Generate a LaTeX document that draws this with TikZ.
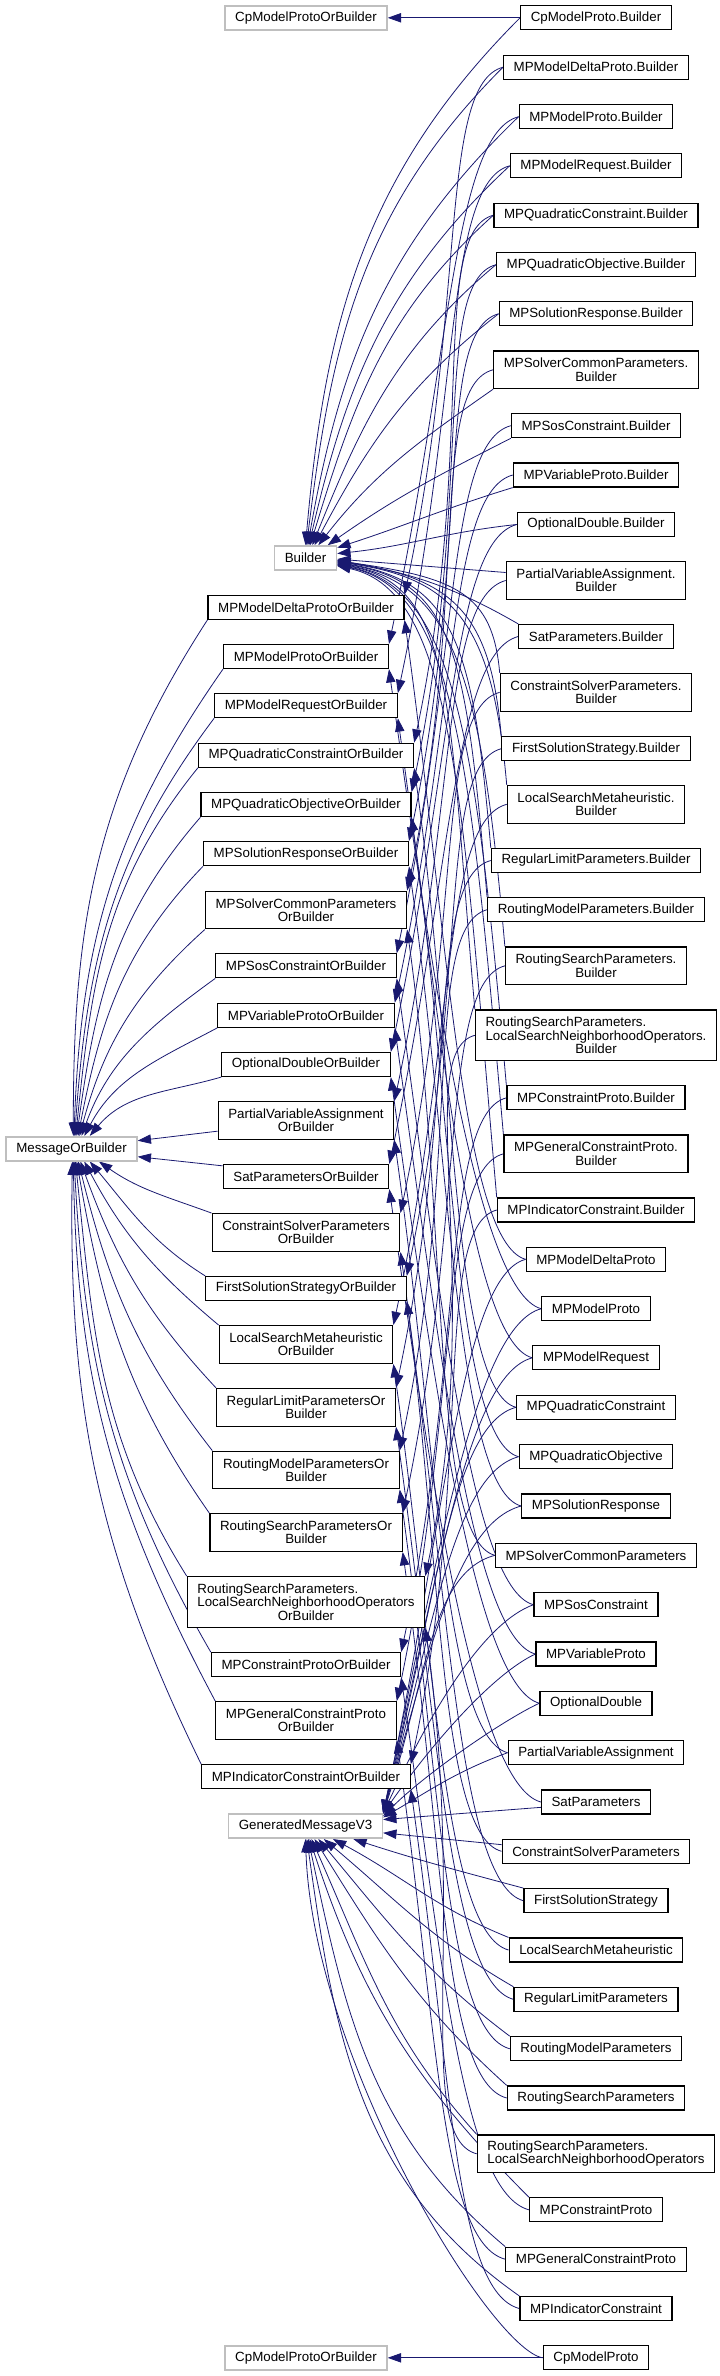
\documentclass[tikz,border=0pt]{standalone}
\usepackage{fontspec}
\setmainfont{Liberation Sans}
\usetikzlibrary{arrows.meta,backgrounds}
\definecolor{edgeblue}{RGB}{25,25,112}
\tikzset{
  cls/.style={draw=black,fill=white,line width=0.9pt,inner xsep=7.6pt,inner ysep=4.3pt,minimum height=18pt,font=\fontsize{10}{10}\selectfont,align=center},
  cls2/.style={cls,minimum height=28.3pt},
  cls3/.style={cls,minimum height=38pt},
  extcls/.style={cls,draw=black!25,line width=1.2pt},
  inh/.style={edgeblue,line width=0.6pt,-{Triangle[length=10pt,width=7pt]}},
  godown/.style={out=195,in=78,out distance=50pt,in distance=225pt},
  goup/.style={out=165,in=-82,out distance=50pt,in distance=225pt}
}
\begin{document}
\begin{tikzpicture}[x=0.75pt,y=0.75pt]
\useasboundingbox (0,0) rectangle (719,-2376);
\node[extcls] (mob) at (71.5,-1148.7) {MessageOrBuilder};
\node[extcls] (cpob1) at (306,-17.8) {CpModelProtoOrBuilder};
\node[extcls] (bld) at (305.5,-558) {Builder};
\node[cls] (mdpob) at (306,-607.3) {MPModelDeltaProtoOrBuilder};
\node[cls] (mpob) at (306,-656.5) {MPModelProtoOrBuilder};
\node[cls] (mrob) at (306,-705.7) {MPModelRequestOrBuilder};
\node[cls] (mqcob) at (306,-755.3) {MPQuadraticConstraintOrBuilder};
\node[cls] (mqoob) at (306,-804.7) {MPQuadraticObjectiveOrBuilder};
\node[cls] (msrob) at (306,-853.7) {MPSolutionResponseOrBuilder};
\node[cls2] (mscpob) at (306,-910) {MPSolverCommonParameters\\OrBuilder};
\node[cls] (msosob) at (306,-965.8) {MPSosConstraintOrBuilder};
\node[cls] (mvarob) at (306,-1015.3) {MPVariableProtoOrBuilder};
\node[cls] (odob) at (306,-1064.5) {OptionalDoubleOrBuilder};
\node[cls2] (pvaob) at (306,-1120.5) {PartialVariableAssignment\\OrBuilder};
\node[cls] (satob) at (306,-1176.5) {SatParametersOrBuilder};
\node[cls2] (cspob) at (306,-1232.5) {ConstraintSolverParameters\\OrBuilder};
\node[cls] (fssob) at (306,-1288.5) {FirstSolutionStrategyOrBuilder};
\node[cls2] (lsmob) at (306,-1344.5) {LocalSearchMetaheuristic\\OrBuilder};
\node[cls2] (rlpob) at (306,-1407.3) {RegularLimitParametersOr\\Builder};
\node[cls2] (rmpob) at (306,-1470) {RoutingModelParametersOr\\Builder};
\node[cls2] (rspob) at (306,-1532.5) {RoutingSearchParametersOr\\Builder};
\node[cls3,align=left] (lsnoob) at (306,-1602) {RoutingSearchParameters.\\LocalSearchNeighborhoodOperators\\\hfill OrBuilder\hfill\null};
\node[cls] (mpcob) at (306,-1664.7) {MPConstraintProtoOrBuilder};
\node[cls2] (mpgob) at (306,-1720.5) {MPGeneralConstraintProto\\OrBuilder};
\node[cls] (mpiob) at (306,-1776.7) {MPIndicatorConstraintOrBuilder};
\node[extcls] (gmv) at (305.5,-1826.2) {GeneratedMessageV3};
\node[extcls] (cpob2) at (306,-2357.8) {CpModelProtoOrBuilder};
\node[cls] (cpmpb) at (596,-17.8) {CpModelProto.Builder};
\node[cls] (mdpb) at (596,-67.2) {MPModelDeltaProto.Builder};
\node[cls] (mpb) at (596,-116.7) {MPModelProto.Builder};
\node[cls] (mrb) at (596,-165.8) {MPModelRequest.Builder};
\node[cls] (mqcb) at (596,-215.2) {MPQuadraticConstraint.Builder};
\node[cls] (mqob) at (596,-264.7) {MPQuadraticObjective.Builder};
\node[cls] (msrb) at (596,-313.8) {MPSolutionResponse.Builder};
\node[cls2] (mscpb) at (596,-369.8) {MPSolverCommonParameters.\\Builder};
\node[cls] (msosb) at (596,-425.7) {MPSosConstraint.Builder};
\node[cls] (mvarb) at (596,-475) {MPVariableProto.Builder};
\node[cls] (odb) at (596,-524.5) {OptionalDouble.Builder};
\node[cls2] (pvab) at (596,-580.5) {PartialVariableAssignment.\\Builder};
\node[cls] (satb) at (596,-636.5) {SatParameters.Builder};
\node[cls2] (cspb) at (596,-692.3) {ConstraintSolverParameters.\\Builder};
\node[cls] (fssb) at (596,-748.7) {FirstSolutionStrategy.Builder};
\node[cls2] (lsmb) at (596,-804.3) {LocalSearchMetaheuristic.\\Builder};
\node[cls] (rlpb) at (596,-860.5) {RegularLimitParameters.Builder};
\node[cls] (rmpb) at (596,-909.7) {RoutingModelParameters.Builder};
\node[cls2] (rspb) at (596,-965.8) {RoutingSearchParameters.\\Builder};
\node[cls3,align=left] (lsnob) at (596,-1035.3) {RoutingSearchParameters.\\LocalSearchNeighborhoodOperators.\\\hfill Builder\hfill\null};
\node[cls] (mpcb) at (596,-1097.8) {MPConstraintProto.Builder};
\node[cls2] (mpgb) at (596,-1153.8) {MPGeneralConstraintProto.\\Builder};
\node[cls] (mpib) at (596,-1210) {MPIndicatorConstraint.Builder};
\node[cls] (mdp) at (596,-1259.3) {MPModelDeltaProto};
\node[cls] (mp) at (596,-1308.7) {MPModelProto};
\node[cls] (mr) at (596,-1357.8) {MPModelRequest};
\node[cls] (mqc) at (596,-1407.3) {MPQuadraticConstraint};
\node[cls] (mqo) at (596,-1456.7) {MPQuadraticObjective};
\node[cls] (msr) at (596,-1506) {MPSolutionResponse};
\node[cls] (mscp) at (596,-1555.3) {MPSolverCommonParameters};
\node[cls] (msos) at (596,-1604.7) {MPSosConstraint};
\node[cls] (mvar) at (596,-1654) {MPVariableProto};
\node[cls] (od) at (596,-1703.2) {OptionalDouble};
\node[cls] (pva) at (596,-1752.7) {PartialVariableAssignment};
\node[cls] (sat) at (596,-1802) {SatParameters};
\node[cls] (csp) at (596,-1851.3) {ConstraintSolverParameters};
\node[cls] (fss) at (596,-1900.7) {FirstSolutionStrategy};
\node[cls] (lsm) at (596,-1950) {LocalSearchMetaheuristic};
\node[cls] (rlp) at (596,-1999.3) {RegularLimitParameters};
\node[cls] (rmp) at (596,-2048.7) {RoutingModelParameters};
\node[cls] (rsp) at (596,-2098) {RoutingSearchParameters};
\node[cls2,align=left] (lsno) at (596,-2153.8) {RoutingSearchParameters.\\LocalSearchNeighborhoodOperators};
\node[cls] (mpc) at (596,-2209.8) {MPConstraintProto};
\node[cls] (mpg) at (596,-2259.2) {MPGeneralConstraintProto};
\node[cls] (mpi) at (596,-2308.5) {MPIndicatorConstraint};
\node[cls] (cpmp) at (596,-2357.8) {CpModelProto};
\begin{scope}[on background layer]
\draw[inh] (cpmpb) -- (cpob1);
\draw[inh] (cpmp) -- (cpob2);
\draw[inh] (mdpob.south west) to[out=237,in=90] (mob.82);
\draw[inh] (mpob.south west) to[out=235,in=88] (mob.79);
\draw[inh] (mrob.south west) to[out=233,in=86] (mob.76);
\draw[inh] (mqcob.south west) to[out=231,in=84] (mob.72);
\draw[inh] (mqoob.south west) to[out=229,in=82] (mob.68);
\draw[inh] (msrob.south west) to[out=226,in=79] (mob.63);
\draw[inh] (mscpob.south west) to[out=222,in=75] (mob.58);
\draw[inh] (msosob.south west) to[out=216,in=70] (mob.52);
\draw[inh] (mvarob.south west) to[out=208,in=62] (mob.45);
\draw[inh] (odob.south west) to[out=196,in=50] (mob.35);
\draw[inh] ([yshift=-8pt]pvaob.west) -- ([yshift=6pt]mob.east);
\draw[inh] ([yshift=8pt]satob.west) -- ([yshift=-6pt]mob.east);
\draw[inh] (cspob.north west) to[out=160,in=-35] (mob.-25);
\draw[inh] (fssob.north west) to[out=148,in=-50] (mob.-35);
\draw[inh] (lsmob.north west) to[out=140,in=-62] (mob.-45);
\draw[inh] (rlpob.north west) to[out=133,in=-70] (mob.-55);
\draw[inh] (rmpob.north west) to[out=128,in=-76] (mob.-62);
\draw[inh] (rspob.north west) to[out=125,in=-80] (mob.-68);
\draw[inh] (lsnoob.north west) to[out=122,in=-84] (mob.-73);
\draw[inh] (mpcob.north west) to[out=120,in=-87] (mob.-78);
\draw[inh] (mpgob.north west) to[out=118,in=-89] (mob.-82);
\draw[inh] (mpiob.north west) to[out=116,in=-91] (mob.-86);
\draw[inh] (cpmpb.west) to[out=225,in=85] (bld.90);
\draw[inh] (mdpb.west) to[out=225,in=83] (bld.85);
\draw[inh] (mpb.west) to[out=224,in=80] (bld.80);
\draw[inh] (mrb.west) to[out=223,in=77] (bld.75);
\draw[inh] (mqcb.west) to[out=222,in=73] (bld.70);
\draw[inh] (mqob.west) to[out=220,in=68] (bld.62);
\draw[inh] (msrb.west) to[out=218,in=62] (bld.55);
\draw[inh] (mscpb.south west) to[out=215,in=52] (bld.45);
\draw[inh] (msosb.south west) to[out=207,in=35] (bld.30);
\draw[inh] (mvarb.south west) to[out=197,in=18] (bld.18);
\draw[inh] (odb.west) to[out=186,in=6] (bld.8);
\draw[inh] ([yshift=6pt]pvab.west) -- (bld.-2);
\draw[inh] (satb.north west) to[out=150,in=-10] (bld.-4);
\draw[inh] (cspb.north west) to[out=95,in=-8,out distance=60pt,in distance=90pt] (bld.-5);
\draw[inh] (fssb.north west) to[out=95,in=-8,out distance=90pt,in distance=90pt] (bld.-6);
\draw[inh] (lsmb.north west) to[out=95,in=-8,out distance=120pt,in distance=90pt] (bld.-7);
\draw[inh] (rlpb.north west) to[out=95,in=-9,out distance=150pt,in distance=90pt] (bld.-8);
\draw[inh] (rmpb.north west) to[out=95,in=-9,out distance=180pt,in distance=90pt] (bld.-9);
\draw[inh] (rspb.north west) to[out=95,in=-10,out distance=200pt,in distance=90pt] (bld.-10);
\draw[inh] (lsnob.north west) to[out=95,in=-10,out distance=230pt,in distance=90pt] (bld.-11);
\draw[inh] (mpcb.north west) to[out=95,in=-11,out distance=260pt,in distance=90pt] (bld.-12);
\draw[inh] (mpgb.north west) to[out=95,in=-11,out distance=280pt,in distance=90pt] (bld.-13);
\draw[inh] (mpib.north west) to[out=95,in=-12,out distance=300pt,in distance=90pt] (bld.-14);
\draw[inh] (mdpb.west) to[godown] (mdpob.north east);
\draw[inh] (mpb.west) to[godown] (mpob.north east);
\draw[inh] (mrb.west) to[godown] (mrob.north east);
\draw[inh] (mqcb.west) to[godown] (mqcob.north east);
\draw[inh] (mqob.west) to[godown] (mqoob.north east);
\draw[inh] (msrb.west) to[godown] (msrob.north east);
\draw[inh] (mscpb.west) to[godown] (mscpob.north east);
\draw[inh] (msosb.west) to[godown] (msosob.north east);
\draw[inh] (mvarb.west) to[godown] (mvarob.north east);
\draw[inh] (odb.west) to[godown] (odob.north east);
\draw[inh] (pvab.west) to[godown] (pvaob.north east);
\draw[inh] (satb.west) to[godown] (satob.north east);
\draw[inh] (cspb.west) to[godown] (cspob.north east);
\draw[inh] (fssb.west) to[godown] (fssob.north east);
\draw[inh] (lsmb.west) to[godown] (lsmob.north east);
\draw[inh] (rlpb.west) to[godown] (rlpob.north east);
\draw[inh] (rmpb.west) to[godown] (rmpob.north east);
\draw[inh] (rspb.west) to[godown] (rspob.north east);
\draw[inh] (lsnob.west) to[godown] (lsnoob.north east);
\draw[inh] (mpcb.west) to[godown] (mpcob.north east);
\draw[inh] (mpgb.west) to[godown] (mpgob.north east);
\draw[inh] (mpib.west) to[godown] (mpiob.north east);
\draw[inh] (mdp.west) to[goup] (mdpob.south east);
\draw[inh] (mp.west) to[goup] (mpob.south east);
\draw[inh] (mr.west) to[goup] (mrob.south east);
\draw[inh] (mqc.west) to[goup] (mqcob.south east);
\draw[inh] (mqo.west) to[goup] (mqoob.south east);
\draw[inh] (msr.west) to[goup] (msrob.south east);
\draw[inh] (mscp.west) to[goup] (mscpob.south east);
\draw[inh] (msos.west) to[goup] (msosob.south east);
\draw[inh] (mvar.west) to[goup] (mvarob.south east);
\draw[inh] (od.west) to[goup] (odob.south east);
\draw[inh] (pva.west) to[goup] (pvaob.south east);
\draw[inh] (sat.west) to[goup] (satob.south east);
\draw[inh] (csp.west) to[goup] (cspob.south east);
\draw[inh] (fss.west) to[goup] (fssob.south east);
\draw[inh] (lsm.west) to[goup] (lsmob.south east);
\draw[inh] (rlp.west) to[goup] (rlpob.south east);
\draw[inh] (rmp.west) to[goup] (rmpob.south east);
\draw[inh] (rsp.west) to[goup] (rspob.south east);
\draw[inh] (lsno.west) to[goup] (lsnoob.south east);
\draw[inh] (mpc.west) to[goup] (mpcob.south east);
\draw[inh] (mpg.west) to[goup] (mpgob.south east);
\draw[inh] (mpi.west) to[goup] (mpiob.south east);
\draw[inh] (mdp.west) to[out=195,in=78,out distance=50pt,in distance=225pt] (gmv.north east);
\draw[inh] (mp.west) to[out=195,in=78,out distance=50pt,in distance=205pt] (gmv.north east);
\draw[inh] (mr.west) to[out=195,in=77,out distance=50pt,in distance=185pt] (gmv.north east);
\draw[inh] (mqc.west) to[out=195,in=76,out distance=50pt,in distance=165pt] (gmv.north east);
\draw[inh] (mqo.west) to[out=195,in=75,out distance=50pt,in distance=145pt] (gmv.north east);
\draw[inh] (msr.west) to[out=195,in=74,out distance=50pt,in distance=125pt] (gmv.north east);
\draw[inh] (mscp.west) to[out=195,in=72,out distance=50pt,in distance=105pt] (gmv.north east);
\draw[inh] (msos.west) to[out=200,in=65,out distance=40pt,in distance=85pt] (gmv.north east);
\draw[inh] (mvar.west) to[out=205,in=55,out distance=35pt,in distance=65pt] (gmv.north east);
\draw[inh] (od.west) to[out=205,in=45,out distance=30pt,in distance=45pt] ([yshift=-2pt]gmv.north east);
\draw[inh] (pva.west) to[out=200,in=30] ([yshift=-3pt]gmv.north east);
\draw[inh] ([yshift=-4pt]sat.west) -- ([yshift=5pt]gmv.east);
\draw[inh] ([yshift=5pt]csp.west) -- ([yshift=-5pt]gmv.east);
\draw[inh] (fss.north west) to[out=165,in=-18] (gmv.-15);
\draw[inh] (lsm.north west) to[out=158,in=-28] (gmv.-25);
\draw[inh] (rlp.north west) to[out=150,in=-40] (gmv.-35);
\draw[inh] (rmp.north west) to[out=143,in=-50] (gmv.-45);
\draw[inh] (rsp.north west) to[out=138,in=-58] (gmv.-55);
\draw[inh] (lsno.north west) to[out=132,in=-66] (gmv.-65);
\draw[inh] (mpc.north west) to[out=135,in=-72] (gmv.-72);
\draw[inh] (mpg.north west) to[out=140,in=-78] (gmv.-78);
\draw[inh] (mpi.north west) to[out=145,in=-82] (gmv.-84);
\draw[inh] (cpmp.west) to[out=170,in=-88,out distance=40pt,in distance=165pt] (gmv.-90);
\end{scope}
\end{tikzpicture}
\end{document}
